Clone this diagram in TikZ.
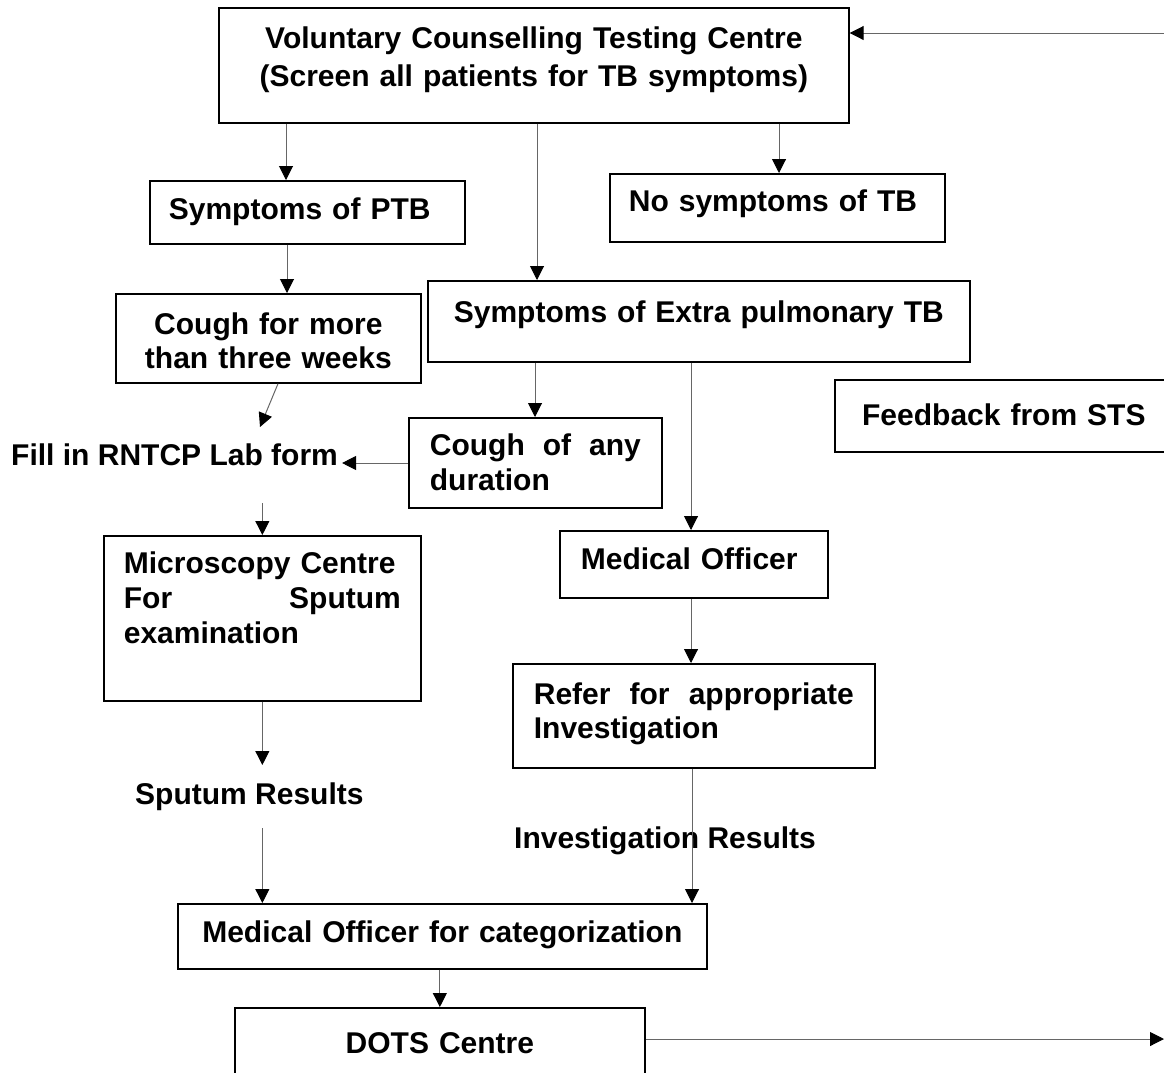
\documentclass[tikz,border=0pt]{standalone}
\usepackage{fontspec}
\setmainfont{Liberation Sans}
\usetikzlibrary{arrows.meta}

\newcommand{\flowfont}{\fontsize{30}{35}\selectfont\bfseries}

\tikzset{
    flowbox/.style={draw, line width=1.7pt, anchor=north west, inner ysep=0pt, font=\flowfont},
    flowtext/.style={anchor=base west, inner xsep=4pt, inner ysep=0pt, font=\flowfont},
    flow/.style={draw=black!60, line width=1pt, -{Triangle[black,length=14pt,width=14pt]}}
}

\begin{document}
\begin{tikzpicture}[x=1pt, y=-1pt]
    \useasboundingbox (0,0) rectangle (1164,1072);

    % boxes, placed by their top left corners
    \node[flowbox, inner xsep=10pt, text width=610pt, align=center, text height=41pt, text depth=74pt] (vctc) at (218,7)
        {Voluntary Counselling Testing Centre\\[3pt](Screen all patients for TB symptoms)};
    \node[flowbox, inner xsep=19pt, text width=277pt, align=left, text height=39pt, text depth=24pt] (ptb) at (149,180)
        {Symptoms of PTB};
    \node[flowbox, inner xsep=19pt, text width=297pt, align=left, text height=38pt, text depth=30pt] (nosym) at (609,173)
        {No symptoms of TB};
    \node[flowbox, inner xsep=10pt, text width=285pt, align=center, text height=41pt, text depth=48pt] (cmore) at (115,293)
        {Cough for more\\[-1pt]than three weeks};
    \node[flowbox, inner xsep=10pt, text width=522pt, align=center, text height=42pt, text depth=39pt] (extra) at (427,280)
        {Symptoms of Extra pulmonary TB};
    \node[flowbox, inner xsep=10pt, text width=318pt, align=center, text height=46pt, text depth=26pt] (feedback) at (834,379)
        {Feedback from STS};
    \node[flowbox, inner xsep=21pt, text width=211pt, align=left, text height=38pt, text depth=52pt] (cany) at (408,417)
        {Cough\hfill of\hfill any\\duration};
    \node[flowbox, inner xsep=20pt, text width=277pt, align=left, text height=38pt, text depth=127pt] (micro) at (103,535)
        {Microscopy Centre\\For\hfill Sputum\\examination};
    \node[flowbox, inner xsep=21pt, text width=226pt, align=left, text height=39pt, text depth=28pt] (mo) at (559,530)
        {Medical Officer};
    \node[flowbox, inner xsep=21pt, text width=320pt, align=left, text height=41pt, text depth=63pt] (refer) at (512,663)
        {Refer\hfill for\hfill appropriate\\[-1pt]Investigation};
    \node[flowbox, inner xsep=10pt, text width=509pt, align=center, text height=39pt, text depth=26pt] (mocat) at (177,903)
        {Medical Officer for categorization};
    \node[flowbox, inner xsep=10pt, text width=390pt, align=center, text height=46pt, text depth=37pt] (dots) at (234,1007)
        {DOTS Centre};

    % plain labels
    \node[flowtext] (fill) at (7,465) {Fill in RNTCP Lab form};
    \node[flowtext] (sputres) at (131,804) {Sputum Results};
    \node[flowtext] (invres) at (510,848) {Investigation Results};

    % free ends
    \coordinate (fbin) at (1164,33);
    \coordinate (fillin) at (260,427);
    \coordinate (canyout) at (408,463);
    \coordinate (dotsout) at (1164,1039);

    % connectors
    \draw[flow] (fbin) -- (fbin -| vctc.east);
    \draw[flow] ([xshift=68pt]vctc.south west) -- ([xshift=68pt]vctc.south west |- ptb.north);
    \draw[flow] ([xshift=319pt]vctc.south west) -- ([xshift=319pt]vctc.south west |- extra.north);
    \draw[flow] ([xshift=561pt]vctc.south west) -- ([xshift=561pt]vctc.south west |- nosym.north);
    \draw[flow] ([xshift=138pt]ptb.south west) -- ([xshift=138pt]ptb.south west |- cmore.north);
    \draw[flow] ([xshift=163pt]cmore.south west) -- (fillin);
    \draw[flow] ([xshift=108pt]extra.south west) -- ([xshift=108pt]extra.south west |- cany.north);
    \draw[flow] ([xshift=264pt]extra.south west) -- ([xshift=264pt]extra.south west |- mo.north);
    \draw[flow] (canyout) -- (canyout -| fill.east);
    \draw[flow] (micro.north |- 0,503) -- (micro.north);
    \draw[flow] (micro.south) -- (micro.south |- 0,765);
    \draw[flow] (micro.south |- 0,828) -- (micro.south |- mocat.north);
    \draw[flow] ([xshift=132pt]mo.south west) -- ([xshift=132pt]mo.south west |- refer.north);
    \draw[flow] ([xshift=180pt]refer.south west) -- ([xshift=180pt]refer.south west |- mocat.north);
    \draw[flow] (dots.north |- mocat.south) -- (dots.north);
    \draw[flow] (dotsout -| dots.east) -- (dotsout);
\end{tikzpicture}
\end{document}
